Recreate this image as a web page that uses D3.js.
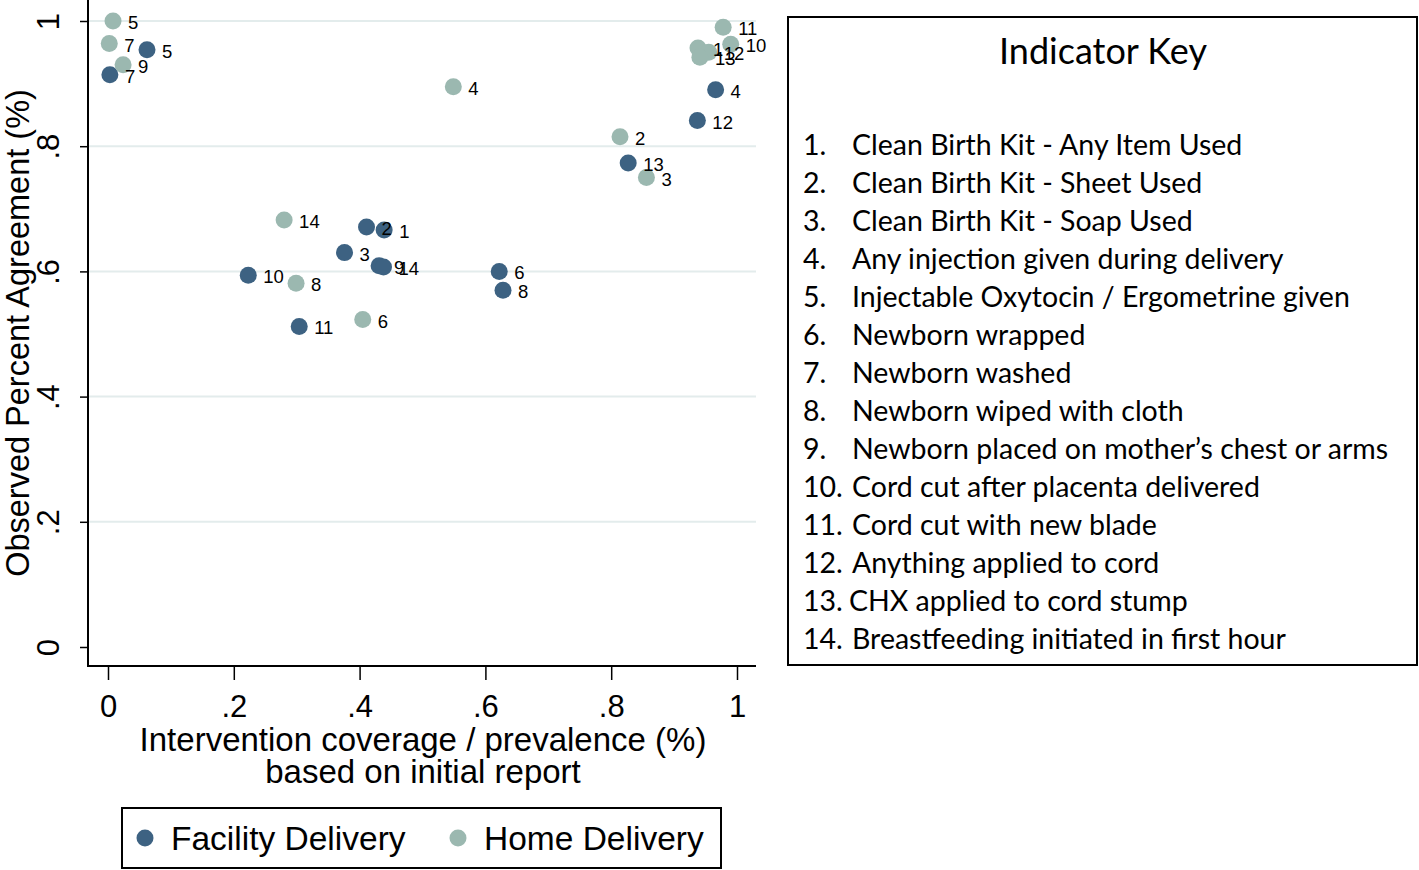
<!DOCTYPE html>
<html><head><meta charset="utf-8">
<script src="https://cdn.jsdelivr.net/npm/d3@7"></script>
<style>body{margin:0;background:#fff}svg{display:block}</style>
</head><body>
<script>
// Data
const indicatorIds = [1,2,3,4,5,6,7,8,9,10,11,12,13,14];
const facilityX = [0.439,0.411,0.376,0.966,0.062,0.622,0.003,0.628,0.431,0.223,0.304,0.937,0.827,0.438];
const facilityY = [0.666,0.671,0.630,0.890,0.954,0.600,0.914,0.570,0.609,0.594,0.512,0.841,0.773,0.607];
const homeX = [0.938,0.814,0.856,0.549,0.008,0.405,0.002,0.299,0.024,0.990,0.978,0.955,0.941,0.280];
const homeY = [0.957,0.815,0.750,0.895,1.000,0.523,0.964,0.581,0.930,0.963,0.990,0.950,0.942,0.682];
const xTicks = [0,0.2,0.4,0.6,0.8,1];
const yTicks = [0,0.2,0.4,0.6,0.8,1];
const tickLabels = ["0",".2",".4",".6",".8","1"];
const keyItems = [
 ["1.","Clean Birth Kit - Any Item Used"],
 ["2.","Clean Birth Kit - Sheet Used"],
 ["3.","Clean Birth Kit - Soap Used"],
 ["4.","Any injection given during delivery"],
 ["5.","Injectable Oxytocin / Ergometrine given"],
 ["6.","Newborn wrapped"],
 ["7.","Newborn washed"],
 ["8.","Newborn wiped with cloth"],
 ["9.","Newborn placed on mother\u2019s chest or arms"],
 ["10.","Cord cut after placenta delivered"],
 ["11.","Cord cut with new blade"],
 ["12.","Anything applied to cord"],
 ["13.","CHX applied to cord stump"],
 ["14.","Breastfeeding initiated in first hour"]
];
const seriesNames = ["Facility Delivery","Home Delivery"];
const colors = {facility:"#3d6282", home:"#9bb8b0"};

const W=1419,H=870;
const svg=d3.select("body").append("svg").attr("width",W).attr("height",H);
const FONT="'Liberation Sans', Arial, sans-serif";
const KFONT="Lato, 'Open Sans', sans-serif";

const x=d3.scaleLinear().domain([0,1]).range([108,737]);
const y=d3.scaleLinear().domain([0,1]).range([647,21]);

// gridlines
svg.append("g").selectAll("line").data(yTicks.filter(d=>d>0)).join("line")
 .attr("x1",89).attr("x2",756).attr("y1",d=>y(d)).attr("y2",d=>y(d))
 .attr("stroke","#e3ecec").attr("stroke-width",2);

// axes
const yAxis=d3.axisLeft(y).tickValues(yTicks).tickFormat((d,i)=>tickLabels[i]).tickSize(8).tickSizeOuter(0);
const gy=svg.append("g").attr("transform","translate(88,0)").call(yAxis);
gy.select(".domain").remove();
gy.selectAll(".tick line").attr("stroke","#000").attr("stroke-width",1.5);
gy.selectAll(".tick text").attr("font-family",FONT).attr("font-size",31).attr("fill","#000")
 .attr("text-anchor","middle").attr("transform","translate(-40,0) rotate(-90)").attr("x",0).attr("y",0).attr("dy","0.36em");
svg.append("line").attr("x1",88).attr("x2",88).attr("y1",0).attr("y2",667).attr("stroke","#000").attr("stroke-width",2);

const xAxis=d3.axisBottom(x).tickValues(xTicks).tickFormat((d,i)=>tickLabels[i]).tickSize(14).tickSizeOuter(0);
const gx=svg.append("g").attr("transform","translate(0,666)").call(xAxis);
gx.select(".domain").remove();
gx.selectAll(".tick line").attr("stroke","#000").attr("stroke-width",1.5);
gx.selectAll(".tick text").attr("font-family",FONT).attr("font-size",31).attr("fill","#000").attr("y",29).attr("dy","0.71em");
svg.append("line").attr("x1",87).attr("x2",756).attr("y1",666).attr("y2",666).attr("stroke","#000").attr("stroke-width",2);

// axis titles
svg.append("text").attr("x",423).attr("y",751).attr("text-anchor","middle").attr("font-family",FONT).attr("font-size",33)
 .text("Intervention coverage / prevalence (%)");
svg.append("text").attr("x",423).attr("y",783).attr("text-anchor","middle").attr("font-family",FONT).attr("font-size",33)
 .text("based on initial report");
svg.append("text").attr("transform","translate(28.5,333) rotate(-90)").attr("text-anchor","middle").attr("font-family",FONT).attr("font-size",32.5)
 .text("Observed Percent Agreement (%)");

// points
function drawSeries(xs,ys,col){
  const data=indicatorIds.map((id,i)=>({id,x:xs[i],y:ys[i]}));
  const g=svg.append("g");
  g.selectAll("circle").data(data).join("circle").attr("cx",d=>x(d.x)).attr("cy",d=>y(d.y)).attr("r",8.5).attr("fill",col);
  return data;
}
const fd=drawSeries(facilityX,facilityY,colors.facility);
const hd=drawSeries(homeX,homeY,colors.home);
const lg=svg.append("g");
[...fd,...hd].forEach(d=>{
  lg.append("text").attr("x",x(d.x)+15).attr("y",y(d.y)+8).attr("font-family",FONT).attr("font-size",18.5).attr("fill","#000").text(d.id);
});

// Indicator key box
svg.append("rect").attr("x",788).attr("y",17).attr("width",629).attr("height",648).attr("fill","none").attr("stroke","#000").attr("stroke-width",2);
svg.append("text").attr("x",1103).attr("y",64).attr("text-anchor","middle").attr("font-family",KFONT).attr("font-size",36).text("Indicator Key");
const kg=svg.append("g").selectAll("g").data(keyItems).join("g");
kg.append("text").attr("x",803).attr("y",(d,i)=>155+i*38).attr("font-family",KFONT).attr("font-size",28.5).text(d=>d[0]);
kg.append("text").attr("x",(d,i)=>i===12?849:852).attr("y",(d,i)=>155+i*38).attr("font-family",KFONT).attr("font-size",28.5).text(d=>d[1]);

// legend
svg.append("rect").attr("x",122).attr("y",808).attr("width",599).attr("height",60).attr("fill","none").attr("stroke","#000").attr("stroke-width",2);
const legX=[145,458];
const legC=[colors.facility,colors.home];
seriesNames.forEach((n,i)=>{
  svg.append("circle").attr("cx",legX[i]).attr("cy",838).attr("r",8.5).attr("fill",legC[i]);
  svg.append("text").attr("x",legX[i]+26).attr("y",850).attr("font-family",FONT).attr("font-size",33.5).text(n);
});
</script>
</body></html>
